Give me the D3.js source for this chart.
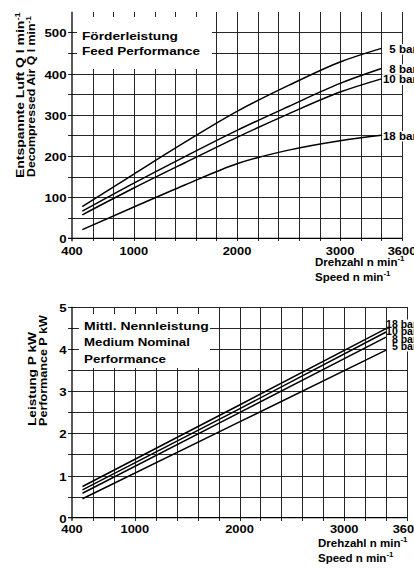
<!DOCTYPE html>
<html><head><meta charset="utf-8">
<script src="https://cdn.jsdelivr.net/npm/d3@7"></script>
<style>
body{margin:0;background:#fff;}
svg{display:block;font-family:"Liberation Sans",Arial,Helvetica,sans-serif;font-weight:bold;}
</style></head>
<body>
<script>
// ---------- data ----------
const rpmTicks = [400, 1000, 2000, 3000, 3600];

const feedRpm = [500, 1000, 1500, 2000, 2500, 3000, 3400];
const feedNames = ["5 bar", "8 bar", "10 bar", "18 bar"];
const feed5  = [77, 156, 234, 308, 371, 428, 461];
const feed8  = [66, 134, 199, 262, 320, 376, 412];
const feed10 = [57, 122, 184, 245, 302, 355, 387];
const feed18 = [21, 76, 130, 181, 214, 237, 250];
const feedTicks = [0, 100, 200, 300, 400, 500];

const powerRpm = [500, 2000, 3400];
const powerNames = ["18 bar", "10 bar", "8 bar", "5 bar"];
const power18 = [0.74, 2.67, 4.48];
const power10 = [0.66, 2.58, 4.40];
const power8  = [0.58, 2.49, 4.28];
const power5  = [0.45, 2.27, 3.97];
const powerTicks = [0, 1, 2, 3, 4, 5];

// ---------- drawing ----------
const W = 414, H = 571;
const GRID = "#262626";
const svg = d3.select("body").append("svg").attr("width", W).attr("height", H);

function fit(t, len) {
  const n = t.node().getComputedTextLength();
  t.attr("transform", (t.attr("transform") || "") + ` scale(${len / n},1)`);
}
function addText(g, x, y, str, size, opts = {}) {
  const t = g.append("text")
    .attr("transform", `translate(${x},${y})` + (opts.rot ? ` rotate(${opts.rot})` : ""))
    .attr("font-size", size)
    .attr("text-anchor", opts.anchor || "start")
    .attr("fill", "#000");
  t.append("tspan").text(str);
  if (opts.sup) t.append("tspan").attr("dy", -size * 0.38).attr("font-size", size * 0.68).text(opts.sup);
  if (opts.len) fit(t, opts.len);
  else if (opts.sx) t.attr("transform", t.attr("transform") + ` scale(${opts.sx},1)`);
  return t;
}

function panel(p) {
  const x = d3.scaleLinear().domain([400, 3600]).range([p.x0, p.x1]);
  const y = d3.scaleLinear().domain([0, p.yMax]).range([p.y0, p.yTop]);
  const g = svg.append("g");

  // vertical grid
  const vg = g.append("g").attr("transform", `translate(0,${p.y0})`)
    .call(d3.axisBottom(x).tickValues(d3.range(600, 3601, 200)).tickSizeOuter(0).tickFormat(""));
  vg.select(".domain").remove();
  vg.selectAll(".tick line").attr("y1", 3).attr("y2", y(p.yMax) - p.y0)
    .attr("stroke", GRID).attr("shape-rendering", "crispEdges");

  // horizontal grid + left ticks
  const hg = g.append("g").attr("transform", `translate(${p.x0},0)`)
    .call(d3.axisLeft(y).tickValues(d3.range(p.hStep, p.hMax + 1e-9, p.hStep)).tickSizeOuter(0).tickFormat(""));
  hg.select(".domain").remove();
  hg.selectAll(".tick line").attr("x1", -4).attr("x2", p.x1 - p.x0)
    .attr("stroke", GRID).attr("shape-rendering", "crispEdges");

  // axes
  g.append("line").attr("x1", p.x0).attr("x2", p.x0).attr("y1", y(p.yMax)).attr("y2", p.y0 + 3)
    .attr("stroke", "#000").attr("stroke-width", 1.3);
  g.append("line").attr("x1", p.x0 - 4).attr("x2", p.x1).attr("y1", p.y0).attr("y2", p.y0)
    .attr("stroke", "#000").attr("stroke-width", 1.3);

  // info box
  g.append("rect").attr("x", p.box[0]).attr("y", p.box[1]).attr("width", p.box[2]).attr("height", p.box[3]).attr("fill", "#fff");
  p.boxText.forEach((s, i) => addText(g, p.box[0] + 5, p.boxBase + i * p.boxStep, s, 11.5, { len: p.boxLen[i] }));

  // curves
  const line = d3.line().x(d => x(d[0])).y(d => y(d[1])).curve(p.curve);
  p.series.forEach(vals => {
    g.append("path").datum(p.rpm.map((r, i) => [r, vals[i]]))
      .attr("d", line).attr("fill", "none").attr("stroke", "#000").attr("stroke-width", 1.5);
  });

  // series labels: backgrounds first, then texts
  const xEnd = x(p.rpm[p.rpm.length - 1]);
  const yFirst = y(p.series[0][p.series[0].length - 1]);
  const labs = p.names.map((nm, i) => {
    const vEnd = p.series[i][p.series[i].length - 1];
    return { nm, base: p.labelY(y(vEnd), i, yFirst), short: nm.split(" ")[0].length === 1 };
  });
  labs.forEach(l => g.append("rect").attr("x", xEnd + 1).attr("y", l.base - p.labSize * 0.8)
      .attr("width", W - xEnd).attr("height", p.labSize * 0.95).attr("fill", "#fff"));
  labs.forEach(l => addText(g, xEnd + p.labDx + (l.short ? p.labSize * 0.556 * p.labSx : 0), l.base, l.nm, p.labSize, { sx: p.labSx }));

  // tick labels
  p.yTicks.forEach(v => addText(g, p.x0 - 5.5, y(v) + 5, String(v), 11.5, { anchor: "end", sx: 1.15 }));
  rpmTicks.forEach(v => addText(g, x(v), p.xLabY, String(v), 11.5, { anchor: "middle", sx: 1.12 }));

  // axis titles
  addText(g, p.xtX, p.xtY, "Drehzahl n min", 11.5, { sup: "-1" });
  addText(g, p.xtX, p.xtY + 15, "Speed n min", 11.5, { sup: "-1" });
  p.yt.forEach(t => addText(g, t.x, t.y, t.s, 10.5, { rot: -90, sup: t.sup, len: t.len }));
}

panel({
  x0: 72, x1: 402, y0: 238.3, yTop: 11.7, yMax: 550, hStep: 50, hMax: 500,
  rpm: feedRpm, series: [feed5, feed8, feed10, feed18], names: feedNames, curve: d3.curveMonotoneX,
  box: [77, 17, 135, 52], boxBase: 39.5, boxStep: 15, boxText: ["Förderleistung", "Feed Performance"], boxLen: [96, 118],
  labSize: 11, labSx: 1.05, labDx: 1.5, labelY: (yy) => yy + 4.5,
  yTicks: feedTicks, xLabY: 255, xtX: 315, xtY: 265.5,
  yt: [
    { x: 23.5, y: 178, s: "Entspannte Luft Q l min", sup: "-1", len: 166 },
    { x: 34.5, y: 177, s: "Decompressed Air Q l min", sup: "-1", len: 161 }
  ]
});

panel({
  x0: 72, x1: 407, y0: 517.7, yTop: 306.7, yMax: 5, hStep: 0.5, hMax: 5,
  rpm: powerRpm, series: [power18, power10, power8, power5], names: powerNames, curve: d3.curveLinear,
  box: [79, 314, 131, 54], boxBase: 329.5, boxStep: 16.7, boxText: ["Mittl. Nennleistung", "Medium Nominal", "Performance"], boxLen: [125, 106, 82],
  labSize: 10, labSx: 1.05, labDx: 0, labelY: (yy, i, y1) => y1 - 1.1 + i * 7.5,
  yTicks: powerTicks, xLabY: 533, xtX: 318, xtY: 546.5,
  yt: [
    { x: 36, y: 426, s: "Leistung P kW", len: 94 },
    { x: 46.5, y: 426, s: "Performance P kW", len: 111 }
  ]
});
</script>
</body></html>
